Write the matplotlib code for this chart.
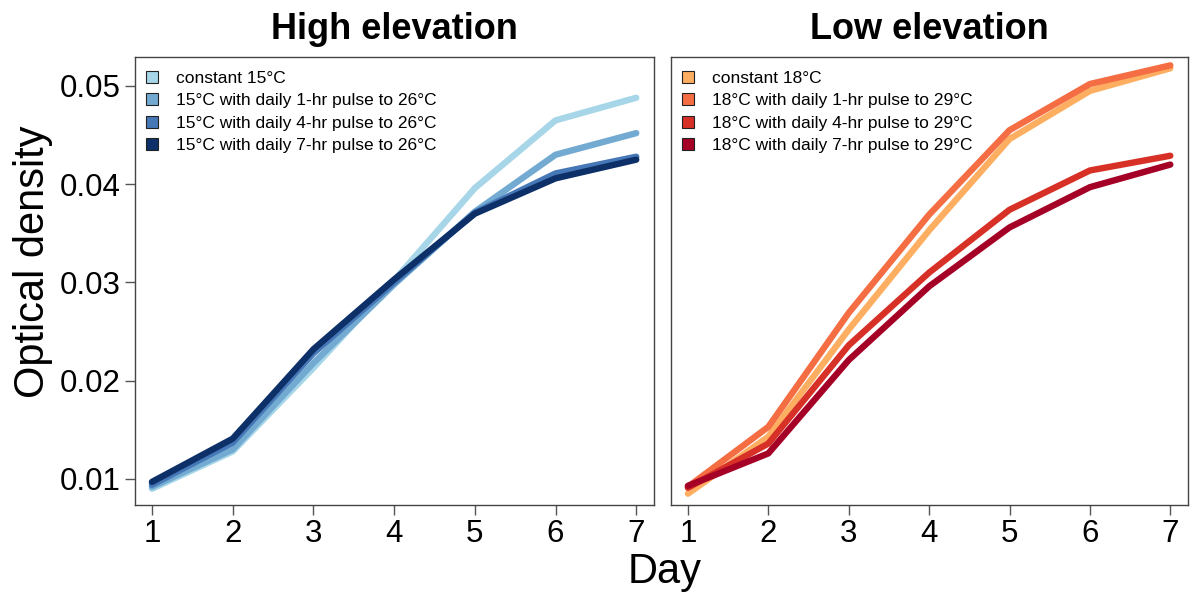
import matplotlib
matplotlib.use("Agg")
import matplotlib.pyplot as plt
from matplotlib.lines import Line2D

plt.rcParams["font.family"] = ["Liberation Sans", "DejaVu Sans"]

days = [1, 2, 3, 4, 5, 6, 7]

# High elevation (15 C base, pulse to 26 C)
high_labels = ["constant 15°C",
               "15°C with daily 1-hr pulse to 26°C",
               "15°C with daily 4-hr pulse to 26°C",
               "15°C with daily 7-hr pulse to 26°C"]
high_const = [0.0090, 0.0128, 0.0213, 0.0302, 0.0396, 0.0465, 0.0488]
high_1hr = [0.0092, 0.0130, 0.0218, 0.0298, 0.0372, 0.0430, 0.0452]
high_4hr = [0.0094, 0.0137, 0.0228, 0.0300, 0.0371, 0.0411, 0.0428]
high_7hr = [0.0097, 0.0141, 0.0232, 0.0303, 0.0370, 0.0406, 0.0425]
high_colors = ["#a6d6e8", "#72aad2", "#4677b6", "#0d3068"]

# Low elevation (18 C base, pulse to 29 C)
low_labels = ["constant 18°C",
              "18°C with daily 1-hr pulse to 29°C",
              "18°C with daily 4-hr pulse to 29°C",
              "18°C with daily 7-hr pulse to 29°C"]
low_const = [0.0085, 0.0143, 0.0252, 0.0353, 0.0446, 0.0495, 0.0518]
low_1hr = [0.0092, 0.0153, 0.0269, 0.0369, 0.0455, 0.0502, 0.0521]
low_4hr = [0.0091, 0.0136, 0.0236, 0.0310, 0.0374, 0.0414, 0.0429]
low_7hr = [0.0093, 0.0126, 0.0221, 0.0296, 0.0356, 0.0397, 0.0420]
low_colors = ["#fdae61", "#f46d43", "#d73027", "#a50026"]

yticks = [0.01, 0.02, 0.03, 0.04, 0.05]
ytick_labels = ["0.01", "0.02", "0.03", "0.04", "0.05"]

W, H = 1192, 599
fig = plt.figure(figsize=(W / 100, H / 100), dpi=100)
ax1 = fig.add_axes([135 / W, (H - 505) / H, (654 - 135) / W, (505 - 57) / H])
ax2 = fig.add_axes([671 / W, (H - 505) / H, (1188 - 671) / W, (505 - 57) / H])

panels = [
    (ax1, "High elevation", high_labels, [high_const, high_1hr, high_4hr, high_7hr], high_colors),
    (ax2, "Low elevation", low_labels, [low_const, low_1hr, low_4hr, low_7hr], low_colors),
]

for ax, title, labels, series, colors in panels:
    for vals, c in zip(series, colors):
        ax.plot(days, vals, color=c, lw=4.6, solid_capstyle="round", solid_joinstyle="round")
    ax.set_xlim(0.79, 7.22)
    ax.set_ylim(0.00735, 0.05295)
    ax.set_xticks(days)
    ax.set_xticklabels([str(d) for d in days])
    ax.set_yticks(yticks)
    if ax is ax1:
        ax.set_yticklabels(ytick_labels)
    else:
        ax.tick_params(axis="y", left=False, labelleft=False)
    ax.tick_params(axis="both", direction="out", length=7, width=1,
                   color="#555555", labelsize=22.5, pad=3)
    for sp in ax.spines.values():
        sp.set_color("#444444")
        sp.set_linewidth(1.0)
    ax.set_title(title, fontsize=26, fontweight="bold", pad=13)
    handles = [Line2D([0], [0], marker="s", linestyle="none", markersize=8.5,
                      markerfacecolor=c, markeredgecolor="#222222", markeredgewidth=0.8)
               for c in colors]
    ax.legend(handles, labels, loc="upper left", frameon=False, fontsize=12.5,
              handlelength=1.0, handletextpad=0.9, labelspacing=0.42,
              borderaxespad=0.2, bbox_to_anchor=(-0.005, 0.993))

fig.text(33 / W, 1 - 262 / H, "Optical density", rotation=90, fontsize=30,
         ha="center", va="center")
fig.text(665 / W, 1 - 572 / H, "Day", fontsize=30, ha="center", va="center")

fig.savefig("out.png", dpi=100)
